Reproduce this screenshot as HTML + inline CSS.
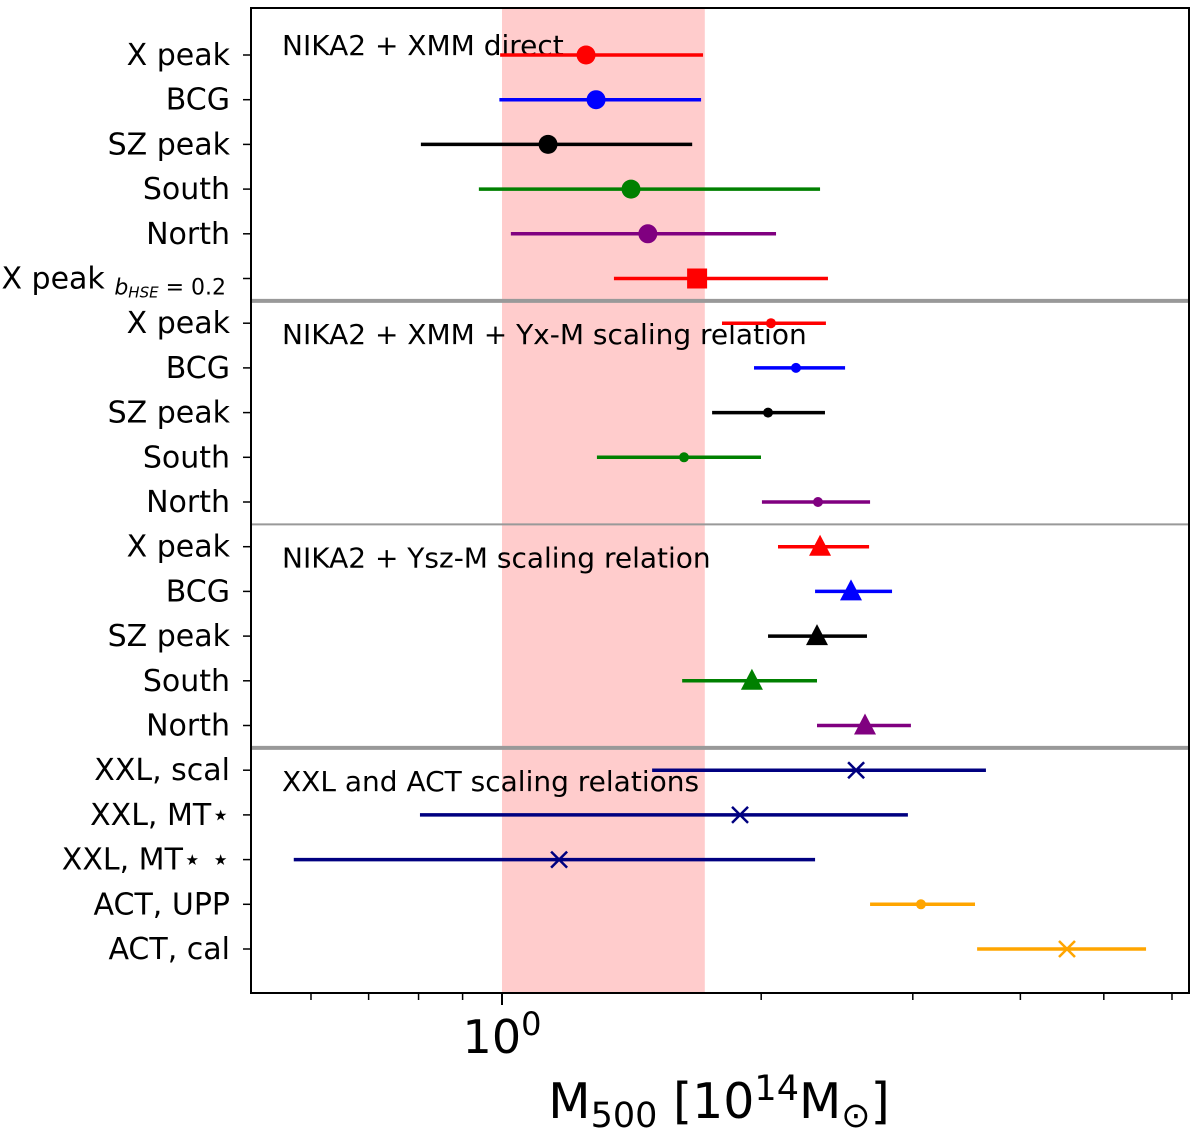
<!DOCTYPE html>
<html><head><meta charset="utf-8"><style>
html,body{margin:0;padding:0;background:#fff;}
svg{display:block;font-family:"DejaVu Sans","Liberation Sans",sans-serif;}
</style></head><body>
<svg id="chart" width="1200" height="1137" viewBox="0 0 1200 1137"></svg>
<script>
const labels = ["X peak","BCG","SZ peak","South","North","X peak bHSE",
 "X peak","BCG","SZ peak","South","North",
 "X peak","BCG","SZ peak","South","North",
 "XXL, scal","XXL, MT⋆","XXL, MT⋆ ⋆","ACT, UPP","ACT, cal"];
const centers = [1.252,1.286,1.131,1.412,1.477,1.685, 2.053,2.195,2.037,1.627,2.328, 2.341,2.543,2.322,1.951,2.640, 2.578,1.890,1.165,3.066,4.531];
const lows    = [0.995,0.993,0.805,0.940,1.024,1.349, 1.801,1.962,1.754,1.289,2.004, 2.092,2.310,2.037,1.619,2.322, 1.494,0.803,0.573,2.676,3.563];
const highs   = [1.712,1.703,1.663,2.341,2.081,2.391, 2.378,2.503,2.372,1.999,2.676, 2.669,2.838,2.654,2.322,2.985, 3.648,2.961,2.310,3.543,5.598];
const markers = ["o","o","o","o","o","s", "d","d","d","d","d", "^","^","^","^","^", "x","x","x","d","x"];
const colors  = ["red","blue","black","green","purple","red", "red","blue","black","green","purple", "red","blue","black","green","purple", "navy","navy","navy","orange","orange"];
const bandRange = [1.0, 1.72];
const majorTicks = [1];
const minorTicks = [0.6,0.7,0.8,0.9,2,3,4,5,6];
const groupTitles = ["NIKA2 + XMM direct","NIKA2 + XMM + Yx-M scaling relation","NIKA2 + Ysz-M scaling relation","XXL and ACT scaling relations"];
const groupStart = [0,6,11,16];
const separators = [5.5,10.5,15.5];
const sepWidths = [4,2,4];

const NS="http://www.w3.org/2000/svg";
const svg=document.getElementById('chart');
const L=251,R=1189,T=8,B=993;
function xScale(v){return 502+861*Math.log10(v);}
function yScale(i){return 55+i*44.7;}
function el(tag,attrs,parent){const e=document.createElementNS(NS,tag);for(const k in attrs)e.setAttribute(k,attrs[k]);(parent||svg).appendChild(e);return e;}

const band=el('rect',{x:xScale(bandRange[0]),y:T,width:xScale(bandRange[1])-xScale(bandRange[0]),height:B-T,fill:'#ffcccc'});



separators.forEach((s,k)=>{
 const yy=(yScale(s-0.5)+yScale(s+0.5))/2;
 const ln=el('line',{x1:L,x2:R,y1:yy,y2:yy,stroke:'#999',"stroke-width":sepWidths[k]});
 
 
});

groupTitles.forEach((t,k)=>{
 const tx=el('text',{x:282,y:yScale(groupStart[k])+(k==0?0:21),"font-size":28,fill:'#000'});
 tx.textContent=t;
 
 
});

labels.forEach((lab,i)=>{
 const y=yScale(i), c=colors[i];
 const g=el('g',{});
 
 
 el('line',{x1:xScale(lows[i]),x2:xScale(highs[i]),y1:y,y2:y,stroke:c,"stroke-width":3.5},g);
 const cx=xScale(centers[i]), m=markers[i];
 if(m=='o') el('circle',{cx:cx,cy:y,r:9.5,fill:c},g);
 else if(m=='d') el('circle',{cx:cx,cy:y,r:5,fill:c},g);
 else if(m=='s') el('rect',{x:cx-10,y:y-10,width:20,height:20,fill:c},g);
 else if(m=='^') el('polygon',{points:`${cx},${y-12} ${cx-11},${y+9} ${cx+11},${y+9}`,fill:c},g);
 else if(m=='x'){el('line',{x1:cx-8,y1:y-8,x2:cx+8,y2:y+8,stroke:c,"stroke-width":2.5},g);el('line',{x1:cx-8,y1:y+8,x2:cx+8,y2:y-8,stroke:c,"stroke-width":2.5},g);}
 el('line',{x1:L-8,x2:L,y1:y,y2:y,stroke:'#000',"stroke-width":1.5});
 const t=el('text',{x:230,y:y+10,"font-size":30,"text-anchor":"end",fill:'#000'});
 
 
 if(lab=="X peak bHSE"){
  t.setAttribute('x',226);
  t.textContent="X peak ";
  const a=el('tspan',{"font-style":"italic","font-size":22,dy:6},t);a.textContent="b";
  const b2=el('tspan',{"font-style":"italic","font-size":15,dy:3},t);b2.textContent="HSE";
  const c2=el('tspan',{"font-size":22,dy:-3},t);c2.textContent=" = 0.2";
 } else t.textContent=lab;
});

const frame=el('rect',{x:L,y:T,width:R-L,height:B-T,fill:'none',stroke:'#000',"stroke-width":2});



majorTicks.forEach(v=>{el('line',{x1:xScale(v),x2:xScale(v),y1:B,y2:B+12,stroke:'#000',"stroke-width":2});
 const t=el('text',{x:xScale(v),y:1053,"font-size":46,"text-anchor":"middle"});
 
 
 t.textContent="10";const s=el('tspan',{"font-size":32,dy:-18},t);s.textContent="0";});
minorTicks.forEach(v=>el('line',{x1:xScale(v),x2:xScale(v),y1:B,y2:B+7,stroke:'#000',"stroke-width":1.5}));

const xt=el('text',{x:719,y:1118,"font-size":49,"text-anchor":"middle"});


xt.textContent="M";
const s1=el('tspan',{"font-size":35,dy:9},xt);s1.textContent="500";
const s2=el('tspan',{dy:-9},xt);s2.textContent=" [10";
const s3=el('tspan',{"font-size":35,dy:-18},xt);s3.textContent="14";
const s4=el('tspan',{dy:18},xt);s4.textContent="M";
const s5=el('tspan',{"font-size":35,dy:9},xt);s5.textContent="⊙";
const s6=el('tspan',{dy:-9},xt);s6.textContent="]";
</script>
</body></html>
